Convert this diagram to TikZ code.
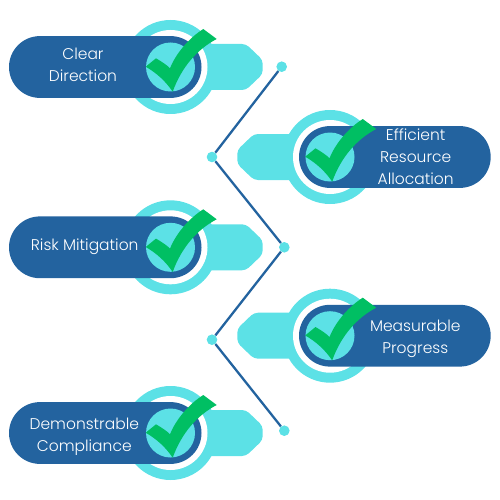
\documentclass[tikz,border=0pt]{standalone}
\usepackage{fontspec}
\setmainfont{Poppins Light}
\definecolor{pillblue}{HTML}{23639F}
\definecolor{cyanc}{HTML}{5CE1E6}
\definecolor{checkg}{HTML}{00BF63}
\tikzset{
  x=1pt,y=-1pt,
  lbl/.style={text=white,font=\fontsize{15.5pt}{22pt}\selectfont,align=center,inner sep=0pt},
  linkline/.style={draw=pillblue,line width=2.3pt},
  dotn/.style={circle,fill=cyanc,minimum size=10.6pt,inner sep=0pt},
  pics/check/.style={code={
    \fill[checkg] (-24.8,-.3) -- (-14.5,-8.7) .. controls (-9,-5.5) and (-3,-1.5) .. (-.5,1.3)
      .. controls (6,-15) and (20,-30) .. (32.8,-38) -- (46.2,-28)
      .. controls (27,-18) and (11,0) .. (2.2,24.7)
      .. controls (-5,14) and (-14,6) .. (-24.8,-.3) -- cycle;
  }},
  pics/leftmod/.style={code={
    \fill[cyanc,rounded corners=4pt] (30,-23) -- (75.5,-23) -- (92.2,-7) -- (92.2,7) -- (75.5,23) -- (30,23) -- cycle;
    \fill[cyanc] (0,0) circle[radius=47];
    \fill[white] (0,0) circle[radius=37];
    \fill[pillblue,rounded corners=30.9pt] (-161.5,-30.9) rectangle (31,30.9);
    \fill[cyanc] (0,0) circle[radius=24.5];
    \pic at (0,0) {check};
  }},
  pics/rightmod/.style={code={
    \fill[cyanc,rounded corners=4pt] (-30,-23) -- (-76,-23) -- (-92.7,-7) -- (-92.7,7) -- (-76,23) -- (-30,23) -- cycle;
    \fill[cyanc] (0,0) circle[radius=47];
    \fill[white] (0,0) circle[radius=37];
    \fill[pillblue,rounded corners=30.9pt] (-31,-30.9) rectangle (160.7,30.9);
    \fill[cyanc] (0,0) circle[radius=24.5];
    \pic at (0,0) {check};
  }}
}
\begin{document}
\begin{tikzpicture}
\useasboundingbox (0,0) rectangle (500,500);
\pic at (170.5,67) {leftmod};
\pic at (330,157) {rightmod};
\pic at (170.5,247.3) {leftmod};
\pic at (330,335.7) {rightmod};
\pic at (170.5,433) {leftmod};
\node[dotn] (d1) at (281.7,66.7) {};
\node[dotn] (d2) at (212,157) {};
\node[dotn] (d3) at (284.3,247.3) {};
\node[dotn] (d4) at (212,339.7) {};
\node[dotn] (d5) at (284.3,430.7) {};
\draw[linkline] (d1) -- (d2) -- (d3) -- (d4) -- (d5);
\node[lbl] (t1) at (83,64.5) {Clear\\Direction};
\node[lbl] (t2) at (415.7,156.5) {Efficient\\Resource\\Allocation};
\node[lbl] (t3) at (84.7,246.7) {Risk Mitigation};
\node[lbl] (t4) at (415.3,338.7) {Measurable\\Progress};
\node[lbl] (t5) at (84.3,437) {Demonstrable\\Compliance};
\end{tikzpicture}
\end{document}
